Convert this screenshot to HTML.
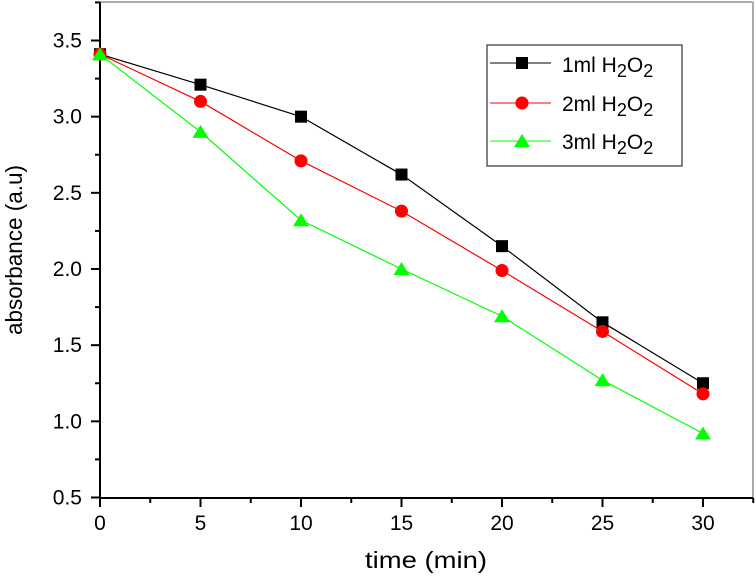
<!DOCTYPE html>
<html><head><meta charset="utf-8"><style>
body{margin:0;background:#fff}
svg{display:block;font-family:"Liberation Sans",Arial,sans-serif}
</style></head><body>
<svg id="c" width="756" height="578">
<line x1="100" y1="2" x2="753" y2="2" stroke="#aaa" stroke-width="2"/>
<line x1="753" y1="2" x2="753" y2="498" stroke="#aaa" stroke-width="2"/>
<g id="axes"></g>
<g id="series"></g>
<text x="22" y="335" font-size="23" text-anchor="start" textLength="170" lengthAdjust="spacingAndGlyphs" transform="rotate(-90 22 335)">absorbance (a.u)</text>
<text x="365" y="568" font-size="23" textLength="122" lengthAdjust="spacingAndGlyphs">time (min)</text>
<g>
<rect x="487" y="45" width="195" height="121" fill="#fff" stroke="#333" stroke-width="1.2"/>
<g>
<line x1="490" y1="63" x2="551" y2="63" stroke="#000"/><rect x="516" y="57" width="12" height="12" fill="#000"/>
<text x="562" y="72" font-size="21">1ml H<tspan font-size="18" dy="5">2</tspan><tspan dy="-5">O</tspan><tspan font-size="18" dy="5">2</tspan></text></g>
<g>
<line x1="490" y1="103" x2="551" y2="103" stroke="#f00"/><circle cx="522" cy="103" r="6.5" fill="#f00"/>
<text x="562" y="111" font-size="21">2ml H<tspan font-size="18" dy="5">2</tspan><tspan dy="-5">O</tspan><tspan font-size="18" dy="5">2</tspan></text></g>
<g>
<line x1="490" y1="141" x2="551" y2="141" stroke="#0f0"/><polygon points="522,134 530,147 514,147" fill="#0f0"/>
<text x="562" y="149" font-size="21">3ml H<tspan font-size="18" dy="5">2</tspan><tspan dy="-5">O</tspan><tspan font-size="18" dy="5">2</tspan></text></g>
</g>
</svg>
<script>
const times=[0,5,10,15,20,25,30];
const s1=[3.41,3.21,3.00,2.62,2.15,1.65,1.25];
const s2=[3.41,3.10,2.71,2.38,1.99,1.59,1.18];
const s3=[3.41,2.90,2.32,2.00,1.69,1.27,0.92];
const xTicks=[0,5,10,15,20,25,30];
const yTicks=[0.5,1.0,1.5,2.0,2.5,3.0,3.5];
const NS="http://www.w3.org/2000/svg";
const X=v=>100+v*(703-100)/30;
const Y=v=>497.5-(v-0.5)*(457/3);
function mk(t,a,p){const e=document.createElementNS(NS,t);for(const k in a)e.setAttribute(k,a[k]);p.appendChild(e);return e;}
const ax=document.getElementById('axes');
let l=mk('line',{x1:100,y1:2,x2:100,y2:499,stroke:'#000','stroke-width':2},ax);


l=mk('line',{x1:99,y1:498,x2:753,y2:498,stroke:'#000','stroke-width':2},ax);


for(let v=0;v<=32.5;v+=2.5){const x=X(v);const major=v%5===0;
 mk('line',{x1:x,y1:498,x2:x,y2:major?507:503,stroke:'#000','stroke-width':2},ax);}
xTicks.forEach(v=>{const t=mk('text',{x:X(v),y:530,'font-size':21,'text-anchor':'middle'},ax);t.textContent=v;
 
 });
for(let v=0.5;v<=3.76;v+=0.25){const y=Y(v);const major=Math.abs((v*2)-Math.round(v*2))<1e-6;
 mk('line',{x1:major?91:95,y1:y,x2:100,y2:y,stroke:'#000','stroke-width':2},ax);}
yTicks.forEach(v=>{const t=mk('text',{x:82,y:Y(v)+7,'font-size':21,'text-anchor':'end'},ax);t.textContent=v.toFixed(1);
 
 });
const sg=document.getElementById('series');
function series(vals,color,shape,name){
 const g=mk('g',{},sg);
 
 
 mk('polyline',{points:vals.map((v,i)=>X(times[i])+','+Y(v)).join(' '),fill:'none',stroke:color,'stroke-width':1.2},g);
 vals.forEach((v,i)=>{const x=X(times[i]),y=Y(v);let m;
  if(shape==='sq')m=mk('rect',{x:x-6,y:y-6,width:12,height:12,fill:color},g);
  else if(shape==='ci')m=mk('circle',{cx:x,cy:y,r:6.5,fill:color},g);
  else m=mk('polygon',{points:`${x},${y-7} ${x+8},${y+6} ${x-8},${y+6}`,fill:color},g);
  
  });
}
series(s1,'#000','sq','series-1ml');
series(s2,'#f00','ci','series-2ml');
series(s3,'#0f0','tr','series-3ml');
</script>
</body></html>
